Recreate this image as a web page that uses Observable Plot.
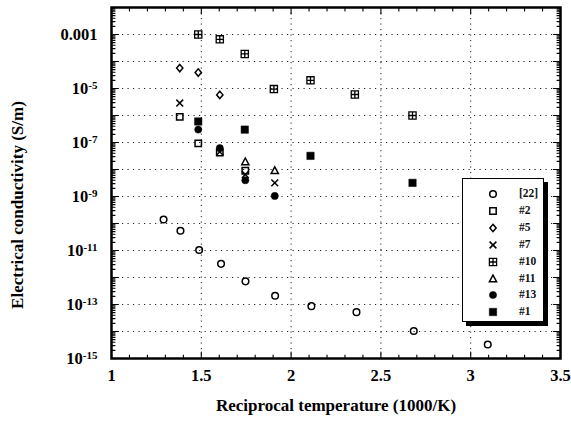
<!DOCTYPE html>
<html><head><meta charset="utf-8">
<script src="https://cdn.jsdelivr.net/npm/d3@7"></script>
<script src="https://cdn.jsdelivr.net/npm/@observablehq/plot@0.6"></script>
<style>
body{margin:0;background:#fff;}
#wrap{position:relative;width:571px;height:422px;font-family:"Liberation Serif",serif;}
#legend{position:absolute;left:462px;top:178px;width:80px;height:142px;border:1.5px solid #000;box-shadow:4px 4px 0 #000;background:#fff;box-sizing:content-box;}
.row{position:absolute;left:0;width:80px;height:17px;}
.row svg{position:absolute;left:23px;top:2px;}
.row span{position:absolute;left:56px;top:1px;font-size:11.5px;font-weight:bold;line-height:15px;color:#111;}
</style></head>
<body><div id="wrap"></div>
<script>
// ---- data ----
const series = ["[22]", "#2", "#5", "#7", "#10", "#11", "#13", "#1"];
const x22 = [1.29, 1.384, 1.488, 1.61, 1.746, 1.911, 2.113, 2.364, 2.683, 3.095];
const y22 = [1.4e-10, 5.4e-11, 1.05e-11, 3.2e-12, 7.2e-13, 2.1e-13, 8.7e-14, 5.2e-14, 1.05e-14, 3.3e-15];
const x2 = [1.38, 1.483, 1.603, 1.745];
const y2 = [8.9e-7, 9.3e-8, 4.2e-8, 9e-9];
const x5 = [1.38, 1.483, 1.603];
const y5 = [5.7e-5, 3.9e-5, 5.8e-6];
const x7 = [1.38, 1.603, 1.745, 1.909];
const y7 = [2.9e-6, 4.5e-8, 6.5e-9, 3.2e-9];
const x10 = [1.483, 1.603, 1.742, 1.904, 2.108, 2.355, 2.676];
const y10 = [1e-3, 6.6e-4, 1.9e-4, 9.5e-6, 2e-5, 6e-6, 1e-6];
const x11 = [1.745, 1.909];
const y11 = [1.9e-8, 9e-9];
const x13 = [1.483, 1.603, 1.745, 1.909];
const y13 = [3e-7, 6.2e-8, 4e-9, 1.05e-9];
const x1 = [1.483, 1.742, 2.108, 2.676];
const y1 = [6e-7, 3e-7, 3.2e-8, 3.2e-9];

const xTickLabels = [1, 1.5, 2, 2.5, 3, 3.5];
const yTickLabels = [1e-3, 1e-5, 1e-7, 1e-9, 1e-11, 1e-13, 1e-15];
const xTitle = "Reciprocal temperature (1000/K)";
const yTitle = "Electrical conductivity (S/m)";

// ---- symbols ----
const rad = s => Math.sqrt(s / Math.PI);
const symCircle = {draw(c, s){ const r = rad(s); c.moveTo(r, 0); c.arc(0, 0, r, 0, 2 * Math.PI); c.closePath(); }};
const symSquare = {draw(c, s){ const r = rad(s); c.rect(-r, -r, 2 * r, 2 * r); }};
const symDiamond = {draw(c, s){ const r = rad(s); c.moveTo(0, -r); c.lineTo(r * 0.85, 0); c.lineTo(0, r); c.lineTo(-r * 0.85, 0); c.closePath(); }};
const symTimes = {draw(c, s){ const r = rad(s); c.moveTo(-r, -r); c.lineTo(r, r); c.moveTo(r, -r); c.lineTo(-r, r); }};
const symBoxPlus = {draw(c, s){ const r = rad(s); c.rect(-r, -r, 2 * r, 2 * r); c.moveTo(0, -r); c.lineTo(0, r); c.moveTo(-r, 0); c.lineTo(r, 0); }};
const symTriangle = {draw(c, s){ const r = rad(s); c.moveTo(0, -r * 1.1); c.lineTo(r, r * 0.75); c.lineTo(-r, r * 0.75); c.closePath(); }};

const styles = [
  {xs: x22, ys: y22, symbol: symCircle, r: 3.3, fill: "none", stroke: "black", sw: 1.5},
  {xs: x2, ys: y2, symbol: symSquare, r: 3.2, fill: "none", stroke: "black", sw: 1.5},
  {xs: x5, ys: y5, symbol: symDiamond, r: 3.7, fill: "none", stroke: "black", sw: 1.5},
  {xs: x7, ys: y7, symbol: symTimes, r: 3.4, fill: "none", stroke: "black", sw: 1.5},
  {xs: x10, ys: y10, symbol: symBoxPlus, r: 3.6, fill: "none", stroke: "black", sw: 1.3},
  {xs: x11, ys: y11, symbol: symTriangle, r: 3.6, fill: "none", stroke: "black", sw: 1.5},
  {xs: x13, ys: y13, symbol: symCircle, r: 3.6, fill: "black", stroke: "black", sw: 0.5},
  {xs: x1, ys: y1, symbol: symSquare, r: 3.7, fill: "black", stroke: "black", sw: 0.5}
];

// ---- axis decorations ----
const yGrid = d3.range(-14, -2).map(e => Math.pow(10, e));
const yMajor = d3.range(-14, -2).map(e => Math.pow(10, e));
const yMinor = [];
for (let e = -15; e <= -3; e++) for (let k = 2; k <= 9; k++) yMinor.push(k * Math.pow(10, e));
const xGrid = [1.5, 2, 2.5, 3];
const xMinor = d3.range(11, 35).filter(i => i % 5 !== 0).map(i => i / 10);
const xMajor = [1.5, 2, 2.5, 3];
const tickShape = {draw(c, l){ c.moveTo(0, 0); c.lineTo(0, -l); }};
const ticks = (data, ch, anchor, rotate, length) => Plot.vector(data, {[ch]: d => d, frameAnchor: anchor, rotate, length, anchor: "start", shape: tickShape, stroke: "black", strokeWidth: 1.1});

const dots = styles.map(st => Plot.dot(st.xs.map((x, i) => ({x, y: st.ys[i]})), {
  x: "x", y: "y", symbol: st.symbol, r: st.r, fill: st.fill, stroke: st.stroke, strokeWidth: st.sw
}));

const chart = Plot.plot({
  width: 571, height: 422,
  marginLeft: 111, marginRight: 11, marginTop: 7, marginBottom: 64,
  style: {fontFamily: "'Liberation Serif', serif", background: "white", color: "black"},
  x: {domain: [1, 3.5]},
  y: {type: "log", domain: [1e-15, 1e-2]},
  marks: [
    Plot.gridY(yGrid, {stroke: "#222", strokeOpacity: 1, strokeWidth: 1, strokeDasharray: "1.2,4.3"}),
    Plot.gridX(xGrid, {stroke: "#222", strokeOpacity: 1, strokeWidth: 1, strokeDasharray: "1.2,4.3"}),
    Plot.axisX(xTickLabels, {tickSize: 0, tickPadding: 11, fontSize: 16.5, fontWeight: "bold", label: null, tickFormat: d => String(d)}),
    Plot.axisY(yTickLabels, {tickSize: 0, tickPadding: 14, fontSize: 16.5, fontWeight: "bold", label: null,
      tickFormat: d => d === 1e-3 ? "0.001" : "10^" + Math.round(Math.log10(d))}),
    ticks(yMinor, "y", "left", 90, 3.5),
    ticks(yMajor, "y", "left", 90, 7),
    ticks(yMinor, "y", "right", -90, 3.5),
    ticks(yMajor, "y", "right", -90, 7),
    ticks(xMinor, "x", "bottom", 0, 3.5),
    ticks(xMajor, "x", "bottom", 0, 6.5),
    ticks(xMinor, "x", "top", 180, 3.5),
    ticks(xMajor, "x", "top", 180, 6.5),
    ...dots,
    Plot.frame({stroke: "black", strokeWidth: 2.5}),
    Plot.text([yTitle], {text: d => d, frameAnchor: "left", textAnchor: "middle", lineAnchor: "middle", rotate: -90, dx: -94, dy: 22, fontSize: 17, fontWeight: "bold"}),
    Plot.text([xTitle], {text: d => d, frameAnchor: "bottom", textAnchor: "middle", lineAnchor: "middle", dy: 47, fontSize: 17, fontWeight: "bold"})
  ]
});

// superscripts on y tick labels
const NS = "http://www.w3.org/2000/svg";
chart.querySelectorAll('[aria-label="y-axis tick label"] text').forEach(t => {
  const s = t.textContent;
  if (s.startsWith("10^")) {
    t.textContent = "10";
    const ts = document.createElementNS(NS, "tspan");
    ts.setAttribute("dy", "-0.45em");
    ts.setAttribute("font-size", "11");
    ts.textContent = s.slice(3);
    t.appendChild(ts);
  }
});

const wrap = document.getElementById("wrap");
wrap.appendChild(chart);

// legend
const legend = document.createElement("div");
legend.id = "legend";
series.forEach((name, i) => {
  const st = styles[i];
  const row = document.createElement("div");
  row.className = "row";
  row.style.top = (i * 16.9 + 6) + "px";
  const p = d3.path();
  st.symbol.draw(p, st.r * st.r * Math.PI);
  const svg = document.createElementNS(NS, "svg");
  svg.setAttribute("width", 14); svg.setAttribute("height", 14);
  svg.setAttribute("viewBox", "-7 -7 14 14");
  const path = document.createElementNS(NS, "path");
  path.setAttribute("d", p.toString());
  path.setAttribute("fill", st.fill);
  path.setAttribute("stroke", st.stroke);
  path.setAttribute("stroke-width", st.sw);
  svg.appendChild(path);
  const span = document.createElement("span");
  span.textContent = name;
  row.appendChild(svg); row.appendChild(span);
  legend.appendChild(row);
});
wrap.appendChild(legend);
</script>
</body></html>
